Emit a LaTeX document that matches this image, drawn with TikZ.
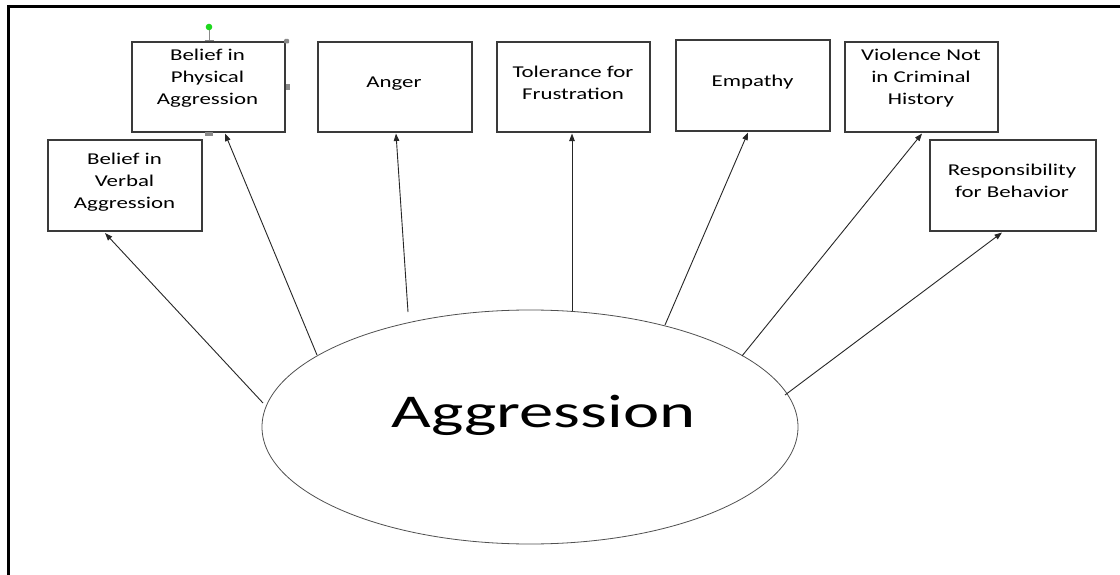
\documentclass[tikz,border=0pt]{standalone}
\usepackage{fontspec}
\newfontfamily\boxfont[FakeStretch=1.385]{Carlito}
\newfontfamily\bigfont[FakeStretch=1.46]{Carlito}
\usetikzlibrary{shapes.geometric,arrows.meta}
\definecolor{boxgray}{HTML}{3A3A3A}
\definecolor{ellgray}{HTML}{505050}
\definecolor{handlegray}{HTML}{8A8A8A}
\definecolor{handlegreen}{HTML}{1ED81E}
\begin{document}
\begin{tikzpicture}[x=1pt,y=-1pt,
  box/.style={draw=boxgray,line width=1.1pt,inner sep=0pt,minimum height=91pt,minimum width=154pt},
  lbl/.style={anchor=base,align=center,inner sep=0pt,font=\boxfont\fontsize{16.5}{22}\selectfont},
  arr/.style={line width=0.9pt,draw=black!85,-{Triangle[length=7.5pt,width=5.5pt]}},
  frame/.style={line width=2.8pt,draw=black}]
\useasboundingbox (0,0) rectangle (1120,575);
\fill[white] (0,0) rectangle (1120,575);
% frame
\draw[frame] (7.3,6.3) -- (1120,6.3);
\draw[frame] (8.7,5) -- (8.7,575);
% central ellipse
\node[ellipse,draw=ellgray,line width=0.8pt,minimum width=536pt,minimum height=234pt,inner sep=0pt] (agg) at (530,427) {};
\node[anchor=base,inner sep=0pt,font=\bigfont\fontsize{47}{56}\selectfont] (aggt) at (543.5,427) {Aggression};
% boxes
\node[box] (b1) at (125,185.5) {};
\node[box,minimum width=153pt,minimum height=90pt] (b2) at (208.5,87) {};
\node[box,minimum height=90pt] (b3) at (395,87) {};
\node[box,minimum width=153pt,minimum height=90pt] (b4) at (573.5,87) {};
\node[box] (b5) at (753,85.5) {};
\node[box,minimum width=153pt,minimum height=90pt] (b6) at (921.5,87) {};
\node[box,minimum width=166pt] (b7) at (1013,185.5) {};
% labels (anchor base = baseline of the last line)
\node[lbl] (t1) at (124.5,208) {Belief in\\Verbal\\Aggression};
\node[lbl] (t2) at (207.5,105) {Belief in\\Physical\\Aggression};
\node[lbl] (t3) at (394,87.5) {Anger};
\node[lbl] (t4) at (573,100) {Tolerance for\\Frustration};
\node[lbl] (t5) at (752.5,86.5) {Empathy};
\node[lbl] (t6) at (921,105) {Violence Not\\in Criminal\\History};
\node[lbl] (t7) at (1012,198) {Responsibility\\for Behavior};
% connectors
\draw[arr] ([shift={(-267,-24)}]agg.center) -- ([xshift=-20pt,yshift=-1.5pt]b1.south);
\draw[arr] ([shift={(-213,-72)}]agg.center) -- ([xshift=16.5pt,yshift=-1pt]b2.south);
\draw[arr] ([shift={(-122,-115)}]agg.center) -- ([xshift=1pt,yshift=-1pt]b3.south);
\draw[arr] ([shift={(42,-116)}]agg.center) -- ([xshift=-1.5pt,yshift=-1pt]b4.south);
\draw[arr] ([shift={(135,-102)}]agg.center) -- ([xshift=-5pt,yshift=-1pt]b5.south);
\draw[arr] ([shift={(212,-71)}]agg.center) -- ([xshift=0.5pt,yshift=-1pt]b6.south);
\draw[arr] ([shift={(255,-32)}]agg.center) -- ([xshift=-11pt,yshift=-1pt]b7.south);
% selection handles on the Physical Aggression box
\draw[handlegray,line width=1pt] (209,30) -- (209,40.5);
\draw[handlegray,line width=1pt] (204.5,40.5) -- (213.5,40.5);
\fill[handlegreen] (209,27) circle (3.3);
\fill[handlegray,rounded corners=1pt] (284,39) rectangle (289,43.5);
\fill[handlegray] (286,84) rectangle (290,90);
\fill[handlegray] (205,132.5) rectangle (213,136);
\end{tikzpicture}
\end{document}
